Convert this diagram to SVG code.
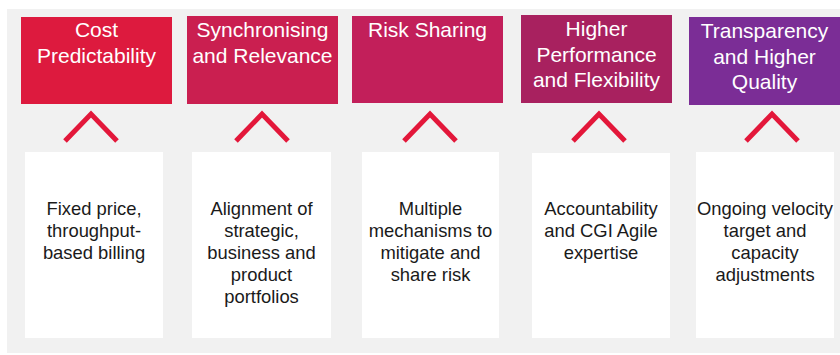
<svg xmlns="http://www.w3.org/2000/svg" width="840" height="355" viewBox="0 0 840 355">
<style>
.hdr{font-family:"Liberation Sans",Arial,sans-serif;font-size:21px;fill:#fff;text-anchor:middle}
.body{font-family:"Liberation Sans",Arial,sans-serif;font-size:18.4px;fill:#1a1a1a;text-anchor:middle}
.card{fill:#fff}
.chev{fill:none;stroke:#E3173A;stroke-width:5}
</style>
<rect x="0" y="0" width="840" height="355" fill="#fff"/>
<rect x="7" y="9" width="833" height="344" fill="#F1F1F1"/>
<g id="n1">
<rect x="21" y="17" width="151" height="87" fill="#DD1A3E"/>
<text class="hdr" x="96.5" y="37">Cost</text>
<text class="hdr" x="96.5" y="63">Predictability</text>
</g>
<g id="n2">
<rect x="187" y="16" width="151" height="88" fill="#CA1F50"/>
<text class="hdr" x="262.5" y="37">Synchronising</text>
<text class="hdr" x="262.5" y="63">and Relevance</text>
</g>
<g id="n3">
<rect x="352" y="16" width="151" height="87" fill="#C21F5A"/>
<text class="hdr" x="427.5" y="37">Risk Sharing</text>
</g>
<g id="n4">
<rect x="521" y="15" width="151" height="88" fill="#A8215F"/>
<text class="hdr" x="596.5" y="36">Higher</text>
<text class="hdr" x="596.5" y="62">Performance</text>
<text class="hdr" x="596.5" y="87">and Flexibility</text>
</g>
<g id="n5">
<rect x="689" y="17" width="151" height="88" fill="#7B2D96"/>
<text class="hdr" x="764.5" y="38">Transparency</text>
<text class="hdr" x="764.5" y="64">and Higher</text>
<text class="hdr" x="764.5" y="89">Quality</text>
</g>
<g id="connectors">
<polyline class="chev" points="65,141 91,114 117,141"/>
<polyline class="chev" points="236,141 262,114 288,141"/>
<polyline class="chev" points="404,141 430,114 456,141"/>
<polyline class="chev" points="573,141 599,114 625,141"/>
<polyline class="chev" points="746,141 772,114 798,141"/>
</g>
<g id="b1">
<rect class="card" x="25" y="152" width="138" height="186"/>
<text class="body" x="94" y="215">Fixed price,</text>
<text class="body" x="94" y="237">throughput-</text>
<text class="body" x="94" y="259">based billing</text>
</g>
<g id="b2">
<rect class="card" x="192" y="152" width="139" height="186"/>
<text class="body" x="261.5" y="215">Alignment of</text>
<text class="body" x="261.5" y="237">strategic,</text>
<text class="body" x="261.5" y="259">business and</text>
<text class="body" x="261.5" y="281">product</text>
<text class="body" x="261.5" y="303">portfolios</text>
</g>
<g id="b3">
<rect class="card" x="362" y="152" width="137" height="186"/>
<text class="body" x="430.5" y="215">Multiple</text>
<text class="body" x="430.5" y="237">mechanisms to</text>
<text class="body" x="430.5" y="259">mitigate and</text>
<text class="body" x="430.5" y="281">share risk</text>
</g>
<g id="b4">
<rect class="card" x="532" y="153" width="138" height="185"/>
<text class="body" x="601" y="215">Accountability</text>
<text class="body" x="601" y="237">and CGI Agile</text>
<text class="body" x="601" y="259">expertise</text>
</g>
<g id="b5">
<rect class="card" x="696" y="152" width="138" height="186"/>
<text class="body" x="765" y="215">Ongoing velocity</text>
<text class="body" x="765" y="237">target and</text>
<text class="body" x="765" y="259">capacity</text>
<text class="body" x="765" y="281">adjustments</text>
</g>
</svg>
